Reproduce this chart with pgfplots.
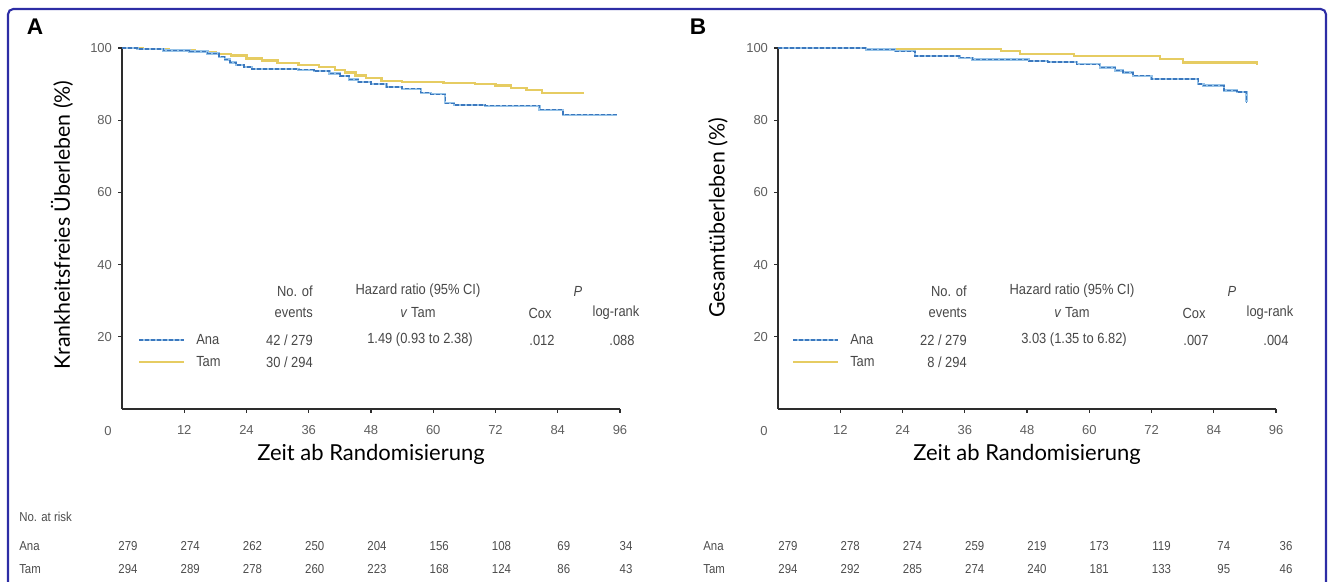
\documentclass[border=0pt]{standalone}
\usepackage{fontspec}
\usepackage{pgfplots}
\pgfplotsset{compat=1.18}
\setmainfont{Liberation Sans}
\newfontfamily\labfont{Lato}
\newfontfamily\tabfont[FakeStretch=0.88]{Liberation Sans}
\definecolor{frameblue}{RGB}{45,45,165}
\definecolor{anaL}{RGB}{150,195,232}
\definecolor{anaD}{RGB}{60,120,190}
\definecolor{tamY}{RGB}{230,204,98}
\definecolor{axgray}{RGB}{45,45,45}
\definecolor{txgray}{RGB}{95,95,95}

\pgfplotstableread{
t s
0 100
3 99.7
8 99.3
13 99.0
16.5 98.5
18.7 97.6
19.8 96.8
20.8 96.0
22 95.3
23.5 94.7
25 94.2
34 94.0
37 93.6
40 92.9
42 92.2
43.8 91.3
45.5 90.6
48 90.0
51 89.2
54 88.7
57.6 87.6
59.5 87.2
62.3 84.7
64 84.2
70 84.0
80.5 82.9
85 81.5
95.5 81.5
}\AAna
\pgfplotstableread{
t s
0 100
4 99.7
9 99.3
14 98.9
18 98.4
21 97.9
24 97.1
27 96.5
30 95.9
34 95.3
38 94.8
41 94.0
43 93.2
45 92.4
47 91.6
50 90.8
54 90.5
62 90.3
68 90.0
72 89.6
75 89.0
78 88.3
81 87.5
89 87.5
}\ATam
\pgfplotstableread{
t s
0 100
17 99.6
22.5 99.1
26.4 97.8
35 97.3
37.5 96.8
48.4 96.4
52 96.1
57.6 95.5
62 94.6
65 93.8
66.5 93.2
68.4 92.3
72 91.4
81 90.0
82 89.6
86 88.2
88.5 87.8
90.3 85.0
}\BAna
\pgfplotstableread{
t s
0 100
17 99.7
43 99.2
46.6 98.3
57 97.8
73.6 96.9
78 96.0
92.3 96.0
92.3 95.4
}\BTam

\pgfplotsset{km/.style={
  scale only axis, width=373.5pt, height=270.75pt,
  xmin=0, xmax=96, ymin=0, ymax=100,
  axis lines*=left,
  axis line style={line width=1.1pt, axgray},
  xtick={12,24,...,96}, ytick={20,40,...,100},
  tick align=outside, major tick length=3pt,
  tick style={line width=0.8pt, axgray},
  tick label style={font=\fontsize{9.75}{10}\selectfont, text=txgray},
  /pgf/number format/assume math mode=true,
  xticklabel style={yshift=-6pt},
  yticklabel style={xshift=-1pt},
  clip=false,
  anchor=south west,
}}

\tikzset{lt/.style={font=\tabfont\fontsize{11}{12}\selectfont, text=black!72, inner sep=0pt}}
\newcommand\legendblock[6]{%
  \begin{scope}[xshift=#1*0.75pt]
  \node[lt, anchor=east] at (313,290) {No. of};
  \node[lt, anchor=east] at (313,268) {events};
  \node[lt] at (418,290) {Hazard ratio (95\% CI)};
  \node[lt] at (418,268) {\textit{v} Tam};
  \node[lt] at (578,290) {\textit{P}};
  \node[lt] at (540,268) {Cox};
  \node[lt] at (616,268) {log-rank};
  \draw[anaL, line width=1.6pt] (139,241) -- (184,241);
  \draw[anaD, line width=1.0pt, dash pattern=on 3pt off 1.5pt] (139,241) -- (184,241);
  \draw[tamY, line width=1.6pt] (139,219) -- (184,219);
  \node[lt, anchor=west] at (196,241) {Ana};
  \node[lt, anchor=west] at (196,219) {Tam};
  \node[lt, anchor=east] at (313,241) {#2};
  \node[lt, anchor=east] at (313,219) {#3};
  \node[lt] at (420,241) {#4};
  \node[lt] at (542,241) {#5};
  \node[lt] at (622,241) {#6};
  \end{scope}}

\begin{document}
\begin{tikzpicture}
% ---------- Panel A
\begin{axis}[km, at={(91.5pt,129pt)}]
\addplot[const plot, tamY, line width=1.7pt] table[x=t,y=s] {\ATam};
\addplot[const plot, anaL, line width=1.7pt] table[x=t,y=s] {\AAna};
\addplot[const plot, anaD, line width=1.0pt, dash pattern=on 3pt off 1.5pt] table[x=t,y=s] {\AAna};
\end{axis}

% ---------- Panel B
\begin{axis}[km, at={(583.5pt,129pt)}]
\addplot[const plot, tamY, line width=1.7pt] table[x=t,y=s] {\BTam};
\addplot[const plot, anaL, line width=1.7pt] table[x=t,y=s] {\BAna};
\addplot[const plot, anaD, line width=1.0pt, dash pattern=on 3pt off 1.5pt] table[x=t,y=s] {\BAna};
\end{axis}

\begin{scope}[x=0.75pt,y=0.75pt]
\path[use as bounding box] (0,0) rectangle (1333,581);
\draw[frameblue, line width=1.6pt, rounded corners=4pt] (8,-20) -- (8,572) -- (1326,572) -- (1326,-20);

% corner zeros
\node[font=\fontsize{9.75}{10}\selectfont, text=txgray] at (108,150) {0};
\node[font=\fontsize{9.75}{10}\selectfont, text=txgray] at (764,150) {0};

% panel letters
\node[font=\fontsize{17}{17}\bfseries\selectfont] at (35,554) {A};
\node[font=\fontsize{17}{17}\bfseries\selectfont] at (698,554) {B};

% axis labels
\node[font=\labfont\fontsize{16}{16}\selectfont, rotate=90] at (62,356) {Krankheitsfreies Überleben (\%)};
\node[font=\labfont\fontsize{16}{16}\selectfont, rotate=90] at (718,363) {Gesamtüberleben (\%)};
\node[font=\labfont\fontsize{16.5}{16.5}\selectfont] at (371,127) {Zeit ab Randomisierung};
\node[font=\labfont\fontsize{16.5}{16.5}\selectfont] at (1027,127) {Zeit ab Randomisierung};

% legends
\legendblock{0}{42 / 279}{30 / 294}{1.49 (0.93 to 2.38)}{.012}{.088}
\legendblock{654}{22 / 279}{8 / 294}{3.03 (1.35 to 6.82)}{.007}{.004}

% at-risk table
\tikzset{rt/.style={font=\tabfont\fontsize{9.75}{10}\selectfont, text=black!70, inner sep=0pt}}
\node[rt, anchor=west] at (19,64) {No. at risk};
\node[rt, anchor=west] at (19,35) {Ana};
\node[rt, anchor=west] at (19,12) {Tam};
\node[rt, anchor=west] at (703,35) {Ana};
\node[rt, anchor=west] at (703,12) {Tam};
\foreach \v [count=\i from 0] in {279,274,262,250,204,156,108,69,34}{
  \node[rt] at (128+\i*62.25,35) {\v};}
\foreach \v [count=\i from 0] in {294,289,278,260,223,168,124,86,43}{
  \node[rt] at (128+\i*62.25,12) {\v};}
\foreach \v [count=\i from 0] in {279,278,274,259,219,173,119,74,36}{
  \node[rt] at (788+\i*62.25,35) {\v};}
\foreach \v [count=\i from 0] in {294,292,285,274,240,181,133,95,46}{
  \node[rt] at (788+\i*62.25,12) {\v};}
\end{scope}
\end{tikzpicture}
\end{document}
